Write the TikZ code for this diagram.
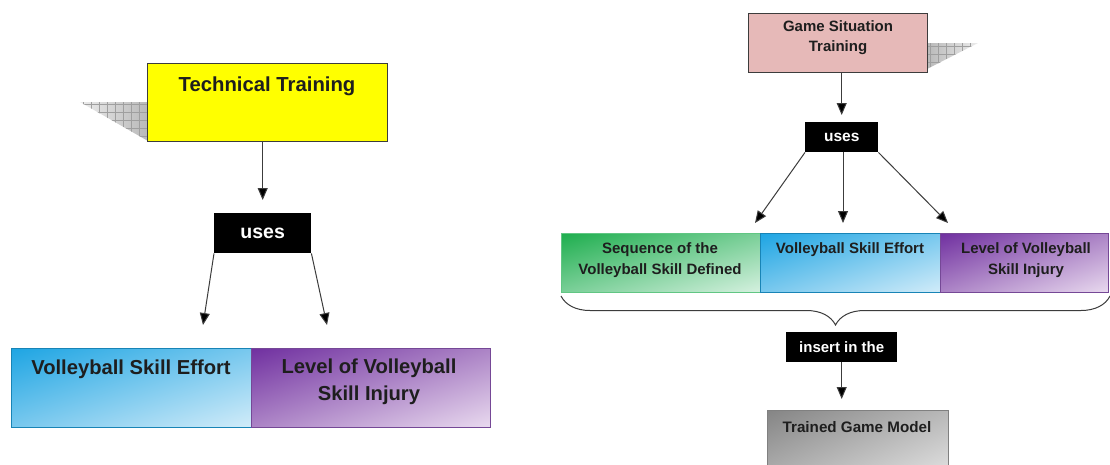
\documentclass[tikz,border=0pt]{standalone}
\usepackage{fontspec}
\setmainfont{Liberation Sans}
\usetikzlibrary{arrows.meta,decorations.pathreplacing,shadings}

\definecolor{inkgray}{HTML}{3C3C3C}
\definecolor{txt}{HTML}{1E1E1E}
\definecolor{ttyellow}{HTML}{FFFF00}
\definecolor{gspink}{HTML}{E6B9B8}
\definecolor{blueA}{HTML}{1EA5E3}
\definecolor{blueB}{HTML}{D2ECF9}
\definecolor{blueM}{HTML}{78C8EE}
\definecolor{purpA}{HTML}{7030A0}
\definecolor{purpB}{HTML}{E9DAEF}
\definecolor{purpM}{HTML}{AC84C6}
\definecolor{greenA}{HTML}{1EAE4E}
\definecolor{greenB}{HTML}{D6F1E0}
\definecolor{greenM}{HTML}{7ACF98}
\definecolor{grayA}{HTML}{858585}
\definecolor{grayB}{HTML}{EBEBEB}
\definecolor{grayM}{HTML}{B8B8B8}

\tikzset{
  plainbox/.style={draw=inkgray, line width=0.9pt, inner sep=0pt, anchor=north west},
  corner shade/.style n args={3}{shading=rectangle,
    upper left=#1, lower right=#2, upper right=#3, lower left=#3},
  bluebox/.style={plainbox, draw=blueA!80!black, corner shade={blueA}{blueB}{blueM}},
  purplebox/.style={plainbox, draw=purpA!70!gray, corner shade={purpA}{purpB}{purpM}},
  greenbox/.style={plainbox, draw=greenA!70!white, corner shade={greenA}{greenB}{greenM}},
  graybox/.style={plainbox, draw=gray, corner shade={grayA}{grayB}{grayM}},
  tag/.style={fill=black, text=white, font=\bfseries, inner sep=0pt, anchor=north west},
  caption/.style={text=txt, font=\bfseries, align=center, anchor=center},
  link/.style={draw=inkgray, line width=1pt, -{Triangle[length=12pt,width=10pt,fill=black]}},
  shadowgrid/.style={draw=gray!75, line width=0.5pt},
}

\begin{document}
\begin{tikzpicture}[x=1pt, y=-1pt]
\clip (0,0) rectangle (1110,464);
\fill[white] (0,0) rectangle (1110,464);

% ---------- Technical training ----------
% hatched drop shadow behind the yellow box
\begin{scope}
  \clip (80,102) -- (148,102) -- (148,141) -- cycle;
  \shade[left color=gray!15, right color=gray!55] (80,102) rectangle (148,141);
  \foreach \gx in {83,91,...,147} \draw[shadowgrid] (\gx,100) -- (\gx,142);
  \foreach \gy in {104,112,...,140} \draw[shadowgrid] (78,\gy) -- (150,\gy);
\end{scope}

\node[plainbox, fill=ttyellow, minimum width=240pt, minimum height=78pt] (tech) at (147,63) {};
\node[caption, font=\bfseries\fontsize{20.3}{22}\selectfont] (techtxt) at (267,86) {Technical Training};

\node[tag, minimum width=97pt, minimum height=40pt, font=\bfseries\fontsize{19.5}{22}\selectfont] (usesL) at (214,213) {uses};

\node[bluebox, minimum width=240pt, minimum height=79pt] (effortL) at (11,348) {};
\node[purplebox, minimum width=239pt, minimum height=79pt] (injuryL) at (251,348) {};
\node[caption, font=\bfseries\fontsize{20.2}{27}\selectfont] (effortLtxt) at (131,369) {Volleyball Skill Effort};
\node[caption, font=\bfseries\fontsize{20.2}{27}\selectfont] (injuryLtxt) at (369,382) {Level of Volleyball\\Skill Injury};

\draw[link, shorten >=13pt] (tech.south -| usesL.north) -- (usesL.north);
\coordinate (usesLtipA) at (203,325);
\coordinate (usesLtipB) at (327,325);
\draw[link] (usesL.south west) -- (usesLtipA);
\draw[link] (usesL.south east) -- (usesLtipB);

% ---------- Game situation training ----------
\begin{scope}
  \clip (927,43) -- (978,43) -- (927,69) -- cycle;
  \shade[left color=gray!55, right color=gray!15] (927,43) rectangle (978,69);
  \foreach \gx in {930,938,...,978} \draw[shadowgrid] (\gx,41) -- (\gx,70);
  \foreach \gy in {46,54,...,70} \draw[shadowgrid] (925,\gy) -- (980,\gy);
\end{scope}

\node[plainbox, fill=gspink, minimum width=179pt, minimum height=59pt] (game) at (748,13) {};
\node[caption, font=\bfseries\fontsize{15}{20}\selectfont] (gametxt) at (838,38) {Game Situation\\Training};

\node[tag, minimum width=73pt, minimum height=30pt, font=\bfseries\fontsize{15.5}{18}\selectfont] (usesR) at (805,122) {uses};

\node[greenbox, minimum width=199pt, minimum height=59pt] (seqR) at (561,233) {};
\node[bluebox, minimum width=180pt, minimum height=59pt] (effortR) at (760,233) {};
\node[purplebox, minimum width=168pt, minimum height=59pt] (injuryR) at (940,233) {};
\node[caption, font=\bfseries\fontsize{15}{21}\selectfont] (seqRtxt) at (660,260) {Sequence of the\\Volleyball Skill Defined};
\node[caption, font=\bfseries\fontsize{15}{21}\selectfont] (effortRtxt) at (850,250) {Volleyball Skill Effort};
\node[caption, font=\bfseries\fontsize{15}{21}\selectfont] (injuryRtxt) at (1026,260) {Level of Volleyball\\Skill Injury};

\draw[link, shorten >=7pt] (game.south -| usesR.north) -- (usesR.north);
\coordinate (usesRtipA) at (755,223);
\coordinate (usesRtipB) at (843,223);
\coordinate (usesRtipC) at (948,223);
\draw[link] (usesR.south west) -- (usesRtipA);
\draw[link] (usesR.south -| usesRtipB) -- (usesRtipB);
\draw[link] (usesR.south east) -- (usesRtipC);

% brace gathering the three components
\coordinate (braceL) at (561,296);
\coordinate (braceR) at (1110,296);
\draw[inkgray, line width=1pt, decorate, decoration={brace, mirror, amplitude=29pt}] (braceL) -- (braceR);

\node[tag, minimum width=111pt, minimum height=30pt, font=\bfseries\fontsize{15}{18}\selectfont] (insert) at (786,332) {insert in the};

\node[graybox, minimum width=181pt, minimum height=80pt] (model) at (767,410) {};
\node[caption, font=\bfseries\fontsize{15.2}{18}\selectfont] (modeltxt) at (857,427) {Trained Game Model};

\draw[link, shorten >=11pt] (insert.south) -- (insert.south |- model.north);
\end{tikzpicture}
\end{document}
